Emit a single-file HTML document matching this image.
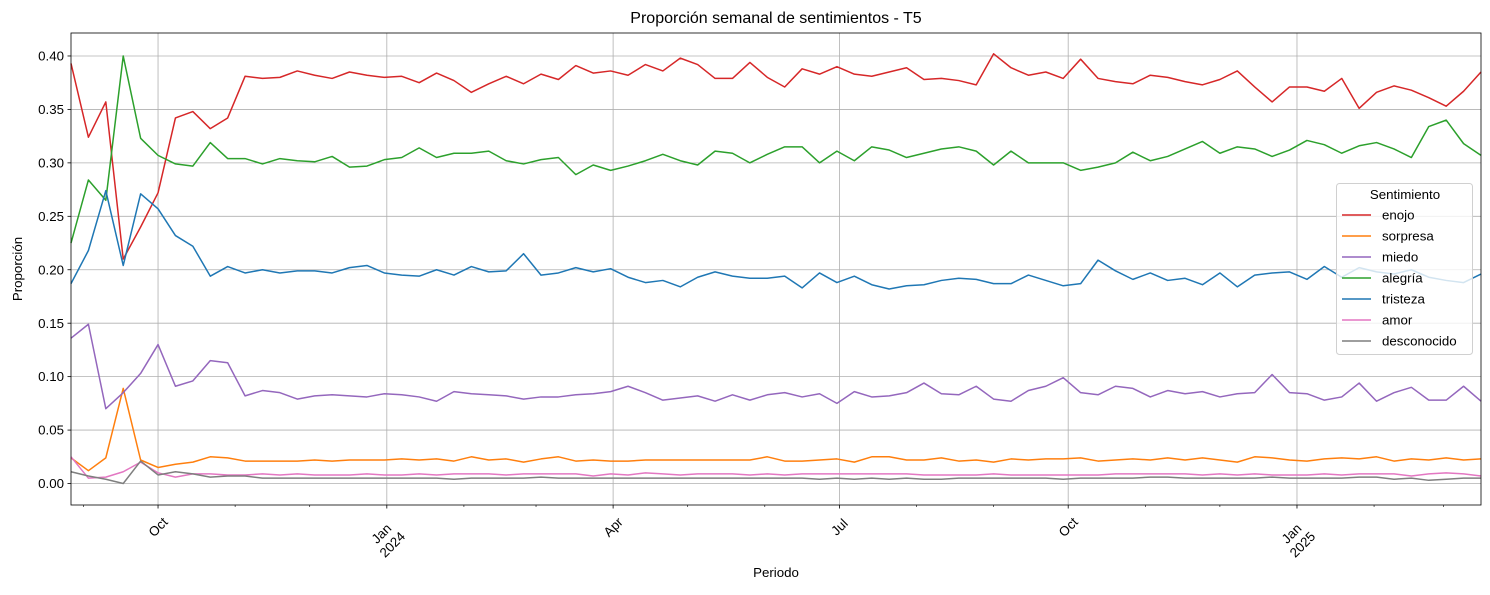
<!DOCTYPE html>
<html><head><meta charset="utf-8"><style>
body{margin:0;background:#fff}
svg{font-family:"Liberation Sans","DejaVu Sans",sans-serif}
</style></head><body>
<svg id="chart" width="1490" height="590" viewBox="0 0 1490 590" xmlns="http://www.w3.org/2000/svg"></svg>
<script>
const startDate = "2023-08-27";
const seriesNames = ["enojo","sorpresa","miedo","alegría","tristeza","amor","desconocido"];
const seriesColors = ["#d62728","#ff7f0e","#9467bd","#2ca02c","#1f77b4","#e377c2","#7f7f7f"];
const enojo = [0.393,0.324,0.357,0.210,0.240,0.272,0.342,0.348,0.332,0.342,0.381,0.379,0.380,0.386,0.382,0.379,0.385,0.382,0.380,0.381,0.375,0.384,0.377,0.366,0.374,0.381,0.374,0.383,0.378,0.391,0.384,0.386,0.382,0.392,0.386,0.398,0.392,0.379,0.379,0.394,0.380,0.371,0.388,0.383,0.390,0.383,0.381,0.385,0.389,0.378,0.379,0.377,0.373,0.402,0.389,0.382,0.385,0.379,0.397,0.379,0.376,0.374,0.382,0.380,0.376,0.373,0.378,0.386,0.371,0.357,0.371,0.371,0.367,0.379,0.351,0.366,0.372,0.368,0.361,0.353,0.367,0.385];
const sorpresa = [0.024,0.012,0.024,0.089,0.022,0.015,0.018,0.020,0.025,0.024,0.021,0.021,0.021,0.021,0.022,0.021,0.022,0.022,0.022,0.023,0.022,0.023,0.021,0.025,0.022,0.023,0.020,0.023,0.025,0.021,0.022,0.021,0.021,0.022,0.022,0.022,0.022,0.022,0.022,0.022,0.025,0.021,0.021,0.022,0.023,0.020,0.025,0.025,0.022,0.022,0.024,0.021,0.022,0.020,0.023,0.022,0.023,0.023,0.024,0.021,0.022,0.023,0.022,0.024,0.022,0.024,0.022,0.020,0.025,0.024,0.022,0.021,0.023,0.024,0.023,0.025,0.021,0.023,0.022,0.024,0.022,0.023];
const miedo = [0.136,0.149,0.070,0.085,0.103,0.130,0.091,0.096,0.115,0.113,0.082,0.087,0.085,0.079,0.082,0.083,0.082,0.081,0.084,0.083,0.081,0.077,0.086,0.084,0.083,0.082,0.079,0.081,0.081,0.083,0.084,0.086,0.091,0.085,0.078,0.080,0.082,0.077,0.083,0.078,0.083,0.085,0.081,0.084,0.075,0.086,0.081,0.082,0.085,0.094,0.084,0.083,0.091,0.079,0.077,0.087,0.091,0.099,0.085,0.083,0.091,0.089,0.081,0.087,0.084,0.086,0.081,0.084,0.085,0.102,0.085,0.084,0.078,0.081,0.094,0.077,0.085,0.090,0.078,0.078,0.091,0.077];
const alegria = [0.225,0.284,0.265,0.400,0.323,0.307,0.299,0.297,0.319,0.304,0.304,0.299,0.304,0.302,0.301,0.306,0.296,0.297,0.303,0.305,0.314,0.305,0.309,0.309,0.311,0.302,0.299,0.303,0.305,0.289,0.298,0.293,0.297,0.302,0.308,0.302,0.298,0.311,0.309,0.300,0.308,0.315,0.315,0.300,0.311,0.302,0.315,0.312,0.305,0.309,0.313,0.315,0.311,0.298,0.311,0.300,0.300,0.300,0.293,0.296,0.300,0.310,0.302,0.306,0.313,0.320,0.309,0.315,0.313,0.306,0.312,0.321,0.317,0.309,0.316,0.319,0.313,0.305,0.334,0.340,0.318,0.307];
const tristeza = [0.187,0.218,0.274,0.204,0.271,0.257,0.232,0.222,0.194,0.203,0.197,0.200,0.197,0.199,0.199,0.197,0.202,0.204,0.197,0.195,0.194,0.200,0.195,0.203,0.198,0.199,0.215,0.195,0.197,0.202,0.198,0.201,0.193,0.188,0.190,0.184,0.193,0.198,0.194,0.192,0.192,0.194,0.183,0.197,0.188,0.194,0.186,0.182,0.185,0.186,0.190,0.192,0.191,0.187,0.187,0.195,0.190,0.185,0.187,0.209,0.199,0.191,0.197,0.190,0.192,0.186,0.197,0.184,0.195,0.197,0.198,0.191,0.203,0.193,0.202,0.198,0.196,0.200,0.193,0.190,0.188,0.196];
const amor = [0.025,0.005,0.006,0.011,0.020,0.010,0.006,0.009,0.009,0.008,0.008,0.009,0.008,0.009,0.008,0.008,0.008,0.009,0.008,0.008,0.009,0.008,0.009,0.009,0.009,0.008,0.009,0.009,0.009,0.009,0.007,0.009,0.008,0.010,0.009,0.008,0.009,0.009,0.009,0.008,0.009,0.008,0.009,0.009,0.009,0.009,0.009,0.009,0.009,0.008,0.008,0.008,0.008,0.009,0.008,0.008,0.008,0.008,0.008,0.008,0.009,0.009,0.009,0.009,0.009,0.008,0.009,0.008,0.009,0.008,0.008,0.008,0.009,0.008,0.009,0.009,0.009,0.007,0.009,0.010,0.009,0.007];
const desconocido = [0.011,0.007,0.004,0.000,0.021,0.008,0.011,0.009,0.006,0.007,0.007,0.005,0.005,0.005,0.005,0.005,0.005,0.005,0.005,0.005,0.005,0.005,0.004,0.005,0.005,0.005,0.005,0.006,0.005,0.005,0.005,0.005,0.005,0.005,0.005,0.005,0.005,0.005,0.005,0.005,0.005,0.005,0.005,0.004,0.005,0.004,0.005,0.004,0.005,0.004,0.004,0.005,0.005,0.005,0.005,0.005,0.005,0.004,0.005,0.005,0.005,0.005,0.006,0.006,0.005,0.005,0.005,0.005,0.005,0.006,0.005,0.005,0.005,0.005,0.006,0.006,0.004,0.005,0.003,0.004,0.005,0.005];
const yTicks = [0.00,0.05,0.10,0.15,0.20,0.25,0.30,0.35,0.40];
const xMajorDates = ["2023-10-01","2024-01-01","2024-04-01","2024-07-01","2024-10-01","2025-01-01"];
const xMajorLabels = [["Oct"],["Jan","2024"],["Apr"],["Jul"],["Oct"],["Jan","2025"]];

const allSeries = [enojo,sorpresa,miedo,alegria,tristeza,amor,desconocido];
const L=71,R=1481,T=33,B=505;
const nPts = enojo.length;
const t0 = Date.parse(startDate);
const tEnd = t0 + (nPts-1)*7*86400000;
const xTime = t => L + (t - t0)/(tEnd - t0)*(R-L);
const xIdx = i => xTime(t0 + i*7*86400000);
const yMin=-0.0201, yMax=0.4215;
const y = v => B - (v - yMin)/(yMax - yMin)*(B-T);
const svg = document.getElementById('chart');
const NS='http://www.w3.org/2000/svg';
function mk(tag, attrs, parent){const e=document.createElementNS(NS,tag);for(const k in attrs)e.setAttribute(k,attrs[k]);(parent||svg).appendChild(e);return e;}

// grid
const grid = mk('g',{});


yTicks.forEach(v=>{mk('line',{x1:L,x2:R,y1:y(v),y2:y(v),stroke:'#b0b0b0','stroke-width':0.8},grid);});
xMajorDates.forEach(d=>{const x=xTime(Date.parse(d));mk('line',{x1:x,x2:x,y1:T,y2:B,stroke:'#b0b0b0','stroke-width':0.8},grid);});

// series
allSeries.forEach((s,k)=>{
  const pts = s.map((v,i)=>xIdx(i).toFixed(2)+','+y(v).toFixed(2)).join(' ');
  const pl = mk('polyline',{points:pts,fill:'none',stroke:seriesColors[k],'stroke-width':1.5,'stroke-linejoin':'round'});
  
  
});

// frame
const fr = mk('rect',{x:L,y:T,width:R-L,height:B-T,fill:'none',stroke:'#000','stroke-width':0.8});



// y ticks
const yax = mk('g',{'font-size':'13.3px',fill:'#000'});


yTicks.forEach(v=>{
  mk('line',{x1:L-3.5,x2:L,y1:y(v),y2:y(v),stroke:'#000','stroke-width':0.8},yax);
  const t=mk('text',{x:L-7,y:y(v)+4.6,'text-anchor':'end'},yax);t.textContent=v.toFixed(2);
});
// x minor ticks (monthly)
const xax = mk('g',{'font-size':'13.3px',fill:'#000'});


for(let yr=2023;yr<=2025;yr++)for(let m=0;m<12;m++){
  const t=Date.UTC(yr,m,1); if(t<t0||t>tEnd) continue;
  if(m%3===0) continue;
  const x=xTime(t); mk('line',{x1:x,x2:x,y1:B,y2:B+2,stroke:'#000','stroke-width':0.6},xax);
}
xMajorDates.forEach((d,i)=>{
  const x=xTime(Date.parse(d));
  mk('line',{x1:x,x2:x,y1:B,y2:B+3.5,stroke:'#000','stroke-width':0.8},xax);
  const lines=xMajorLabels[i];
  const cy = lines.length===1 ? 527 : 539;
  const g=mk('g',{transform:`translate(${x},${cy}) rotate(-45)`},xax);
  lines.forEach((ln,j)=>{const t=mk('text',{x:0,y:(j-(lines.length-1)/2)*15.5+4.6,'text-anchor':'middle'},g);t.textContent=ln;});
});

// labels
let t=mk('text',{x:(L+R)/2,y:23,'text-anchor':'middle','font-size':'16px'});t.textContent='Proporción semanal de sentimientos - T5';

t=mk('text',{x:(L+R)/2,y:577,'text-anchor':'middle','font-size':'13.3px'});t.textContent='Periodo';

t=mk('text',{x:0,y:0,transform:`translate(22,${(T+B)/2}) rotate(-90)`,'text-anchor':'middle','font-size':'13.3px'});t.textContent='Proporción';


// legend
const lg=mk('g',{'font-size':'13.3px'});


mk('rect',{x:1336.5,y:183.5,width:136,height:171,rx:3,fill:'#fff','fill-opacity':0.8,stroke:'#d0d0d0','stroke-width':1},lg);
t=mk('text',{x:1405,y:199,'text-anchor':'middle'},lg);t.textContent='Sentimiento';
seriesNames.forEach((n,k)=>{
  const yy=215+k*21;
  const e=mk('g',{},lg);
  
  
  mk('line',{x1:1342,x2:1371,y1:yy,y2:yy,stroke:seriesColors[k],'stroke-width':1.5},e);
  const tx=mk('text',{x:1382,y:yy+4.6},e);tx.textContent=n;
});
</script>
</body></html>
